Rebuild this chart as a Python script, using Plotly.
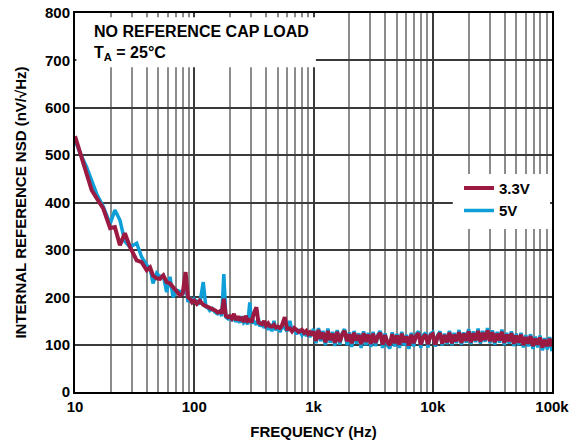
import plotly.graph_objects as go

# Frequency grid (Hz) and noise density values (nV/rtHz)
FREQ_LOW = [10, 11, 12.5, 13.8, 15.2, 17.2, 19.7, 21.6, 23.8, 26.2, 28.9, 32.9, 36.2, 39.9,
            42.6, 45.1, 48.4, 51.6, 55, 58.7, 62.6, 66.4, 71, 75.9, 80, 84.6, 88.6, 92, 96]
NSD_3V3_LOW = [540, 504, 462, 426, 409, 388, 346, 348, 310, 335, 306, 278, 274, 257,
               263, 246, 240, 239, 246, 232, 229, 222, 211, 204, 208, 253, 200, 197, 189]
NSD_5V_LOW = [532, 505, 475, 445, 418, 392, 355, 384, 363, 318, 306, 314, 285, 268,
              262, 229, 251, 243, 246, 211, 243, 200, 215, 212, 205, 232, 190, 200, 188]

FREQ_MID = [100, 105, 111, 119, 125, 130, 135, 142, 150, 157, 164, 170, 177, 184, 191,
            198, 206, 215, 224, 233, 241, 250, 260, 270, 281, 292, 303, 315, 332, 345,
            356, 370, 385, 400, 416, 431, 448, 466, 484, 503, 523, 543, 574, 600, 634,
            660, 690, 720, 750, 800, 835, 870, 900, 933, 970]
NSD_3V3_MID = [193, 186, 193, 184, 182, 180, 179, 175, 172, 168, 170, 166, 197, 161, 158,
               160, 155, 165, 152, 160, 151, 158, 148, 161, 150, 152, 147, 165, 179, 147,
               145, 143, 150, 140, 145, 139, 138, 142, 136, 138, 135, 140, 158, 133, 134,
               128, 135, 130, 127, 131, 125, 129, 122, 126, 120]
NSD_5V_MID = [196, 190, 185, 232, 180, 178, 172, 176, 168, 165, 170, 160, 249, 158, 155,
              162, 150, 160, 148, 157, 146, 160, 146, 150, 143, 189, 145, 150, 142, 155,
              138, 148, 135, 146, 131, 143, 128, 150, 130, 140, 126, 138, 135, 128, 150,
              128, 133, 122, 132, 120, 128, 118, 126, 116, 124]

FREQ_HIGH_A = [1000, 1050, 1100, 1150, 1200, 1260, 1320, 1380, 1450, 1510, 1580, 1660, 1740,
               1820, 1910, 2000, 2090, 2190, 2290, 2400, 2510, 2630, 2750, 2880, 3020, 3160,
               3310, 3470, 3630, 3800, 3980, 4170, 4370, 4570, 4790, 5010, 5250, 5500, 5750,
               6030, 6310, 6610, 6920, 7240, 7590, 7940, 8320, 8710, 9120, 9550]
NSD_3V3_HIGH_A = [128, 108, 131, 112, 125, 105, 129, 110, 123, 104, 127, 106, 121, 129, 107,
                  122, 103, 125, 109, 120, 101, 124, 106, 121, 102, 123, 104, 118, 125, 100,
                  120, 105, 99, 122, 103, 119, 100, 123, 105, 117, 98, 121, 103, 118, 124,
                  100, 116, 121, 101, 119]
NSD_5V_HIGH_A = [133, 103, 135, 107, 129, 99, 134, 104, 127, 97, 131, 100, 124, 133, 99,
                 126, 95, 129, 102, 124, 93, 128, 99, 125, 95, 127, 97, 121, 129, 93,
                 124, 98, 92, 126, 96, 123, 93, 127, 98, 121, 91, 125, 96, 122, 128,
                 93, 120, 125, 94, 123]

FREQ_HIGH_B = [10000, 10500, 11000, 11500, 12000, 12600, 13200, 13800, 14500, 15100, 15800,
               16600, 17400, 18200, 19100, 20000, 20900, 21900, 22900, 24000, 25100, 26300,
               27500, 28800, 30200, 31600, 33100, 34700, 36300, 38000, 39800, 41700, 43700,
               45700, 47900, 50100, 52500, 55000, 57500, 60300, 63100, 66100, 69200, 72400,
               75900, 79400, 83200, 87100, 91200, 95500, 100000]
NSD_3V3_HIGH_B = [122, 100, 117, 124, 102, 120, 105, 125, 103, 121, 107, 126, 104, 123, 108,
                  128, 105, 124, 109, 129, 106, 125, 110, 130, 107,
                  126, 105, 123, 109, 127, 104, 121, 107, 124, 102, 119, 104, 121, 99, 116,
                  102, 118, 97, 113, 100, 115, 94, 110, 97, 112, 96]
NSD_5V_HIGH_B = [126, 96, 120, 128, 98, 123, 101, 129, 99, 125, 103, 131, 100, 126, 104,
                 133, 101, 128, 105, 134, 102, 129, 106, 135, 103,
                 130, 100, 127, 104, 132, 99, 125, 102, 128, 97, 123, 99, 125, 94, 120,
                 96, 122, 91, 117, 94, 119, 88, 114, 90, 116, 86]

X_TICK_VALS = [10, 100, 1000, 10000, 100000]
X_TICK_TEXT = ["10", "100", "1k", "10k", "100k"]
Y_TICK_VALS = [0, 100, 200, 300, 400, 500, 600, 700, 800]

FONT = "Liberation Sans, Arial, Helvetica, sans-serif"
MAROON = "#9B1A42"
CYAN = "#0E9FD8"

freq = FREQ_LOW + FREQ_MID + FREQ_HIGH_A + FREQ_HIGH_B
nsd_3v3 = NSD_3V3_LOW + NSD_3V3_MID + NSD_3V3_HIGH_A + NSD_3V3_HIGH_B
nsd_5v = NSD_5V_LOW + NSD_5V_MID + NSD_5V_HIGH_A + NSD_5V_HIGH_B
assert len(freq) == len(nsd_3v3) == len(nsd_5v)

fig = go.Figure()

# 5V first so the 3.3V trace sits on top, like the reference
fig.add_trace(go.Scatter(x=freq, y=nsd_5v, mode="lines", name="5V",
                         line=dict(color=CYAN, width=3.5)))
fig.add_trace(go.Scatter(x=freq, y=nsd_3v3, mode="lines", name="3.3V",
                         line=dict(color=MAROON, width=4)))

# white boxes behind the condition text and the legend
fig.add_shape(type="rect", xref="x domain", yref="y domain", x0=0.003, x1=0.505,
              y0=0.857, y1=0.989, fillcolor="white", line=dict(width=0), layer="above")
fig.add_shape(type="rect", xref="x domain", yref="y domain", x0=0.792, x1=0.996,
              y0=0.430, y1=0.575, fillcolor="white", line=dict(width=0), layer="above")

fig.add_annotation(x=0.036, y=0.950, xref="paper", yref="paper", showarrow=False,
                   xanchor="left", yanchor="middle", text="NO REFERENCE CAP LOAD",
                   font=dict(family=FONT, size=16, color="black", weight="bold"))
fig.add_annotation(x=0.036, y=0.894, xref="paper", yref="paper", showarrow=False,
                   xanchor="left", yanchor="middle", text="T<sub>A</sub> = 25°C",
                   font=dict(family=FONT, size=16, color="black", weight="bold"))

fig.update_xaxes(
    type="log", range=[1, 5], automargin=False,
    tickvals=X_TICK_VALS, ticktext=X_TICK_TEXT, ticks="",
    showgrid=True, gridcolor="#3a3a3a", gridwidth=1.5,
    minor=dict(dtick="D1", showgrid=True, gridcolor="#8c8c8c", gridwidth=1.5, ticks=""),
    showline=True, linecolor="black", linewidth=2, mirror=True,
    tickfont=dict(family=FONT, size=15, color="black", weight="bold"),
    title=dict(text="FREQUENCY (Hz)", standoff=12,
               font=dict(family=FONT, size=15, color="black", weight="bold")),
)
fig.update_yaxes(
    range=[0, 800], tickvals=Y_TICK_VALS, ticks="", automargin=False,
    showgrid=True, gridcolor="#3a3a3a", gridwidth=1.5, zeroline=False,
    showline=True, linecolor="black", linewidth=2, mirror=True,
    tickfont=dict(family=FONT, size=15, color="black", weight="bold"),
    title=dict(text="INTERNAL REFERENCE NSD (nV/√Hz)", standoff=15,
               font=dict(family=FONT, size=15, color="black", weight="bold")),
)

fig.update_layout(
    width=582, height=444,
    margin=dict(l=75, r=30, t=13, b=52),
    plot_bgcolor="white", paper_bgcolor="white",
    showlegend=True,
    legend=dict(x=0.805, y=0.581, xanchor="left", yanchor="top",
                traceorder="reversed", bgcolor="rgba(0,0,0,0)",
                font=dict(family=FONT, size=15, color="black", weight="bold")),
)

# the page body has a default 8px margin; drop it so the figure sits at 0,0
fig.write_html("out.html", config={"displayModeBar": False},
               post_script="document.body.style.margin='0';")
